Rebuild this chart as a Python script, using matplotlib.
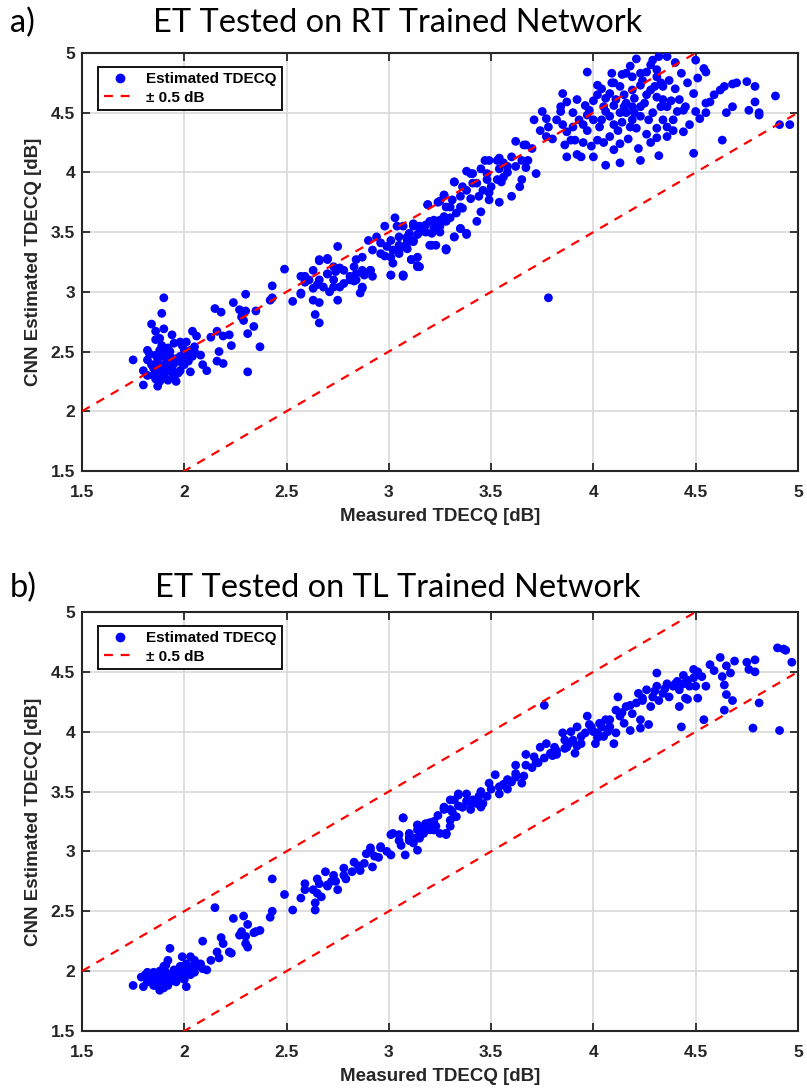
import matplotlib
matplotlib.use("Agg")
import matplotlib.pyplot as plt
from matplotlib.lines import Line2D

# panel a) : ET tested on RT trained network (read off the picture)
a_meas = [
    1.90, 1.89, 1.84, 1.86, 1.90, 1.88, 1.86, 1.75, 1.80, 1.87,
    2.15, 2.18, 2.24, 2.27, 2.30, 2.30, 2.35, 2.34, 2.28, 2.29,
    2.37, 2.31, 2.31, 2.23, 2.19, 2.16, 2.17, 2.13, 2.16, 2.19,
    2.22, 2.04, 2.06, 2.43, 2.43, 2.42, 2.49, 2.53, 2.57, 2.59,
    2.59, 2.63, 2.66, 2.64, 2.66, 2.86, 2.87, 3.01, 3.07, 3.14,
    3.28, 2.75, 2.83, 2.81, 2.73, 2.71, 2.78, 2.91, 2.88, 2.84,
    2.65, 2.70, 2.74, 2.76, 2.66, 2.70,
    1.82, 1.83, 1.84, 1.87, 1.88, 1.89, 1.91, 1.91, 1.87, 1.85,
    1.89, 1.92, 1.95, 1.97, 1.94, 1.95, 1.93, 1.92, 1.95, 1.98,
    2.00, 1.98, 2.01, 2.03, 2.04, 2.08, 2.09, 2.11, 2.03, 2.00,
    1.98, 1.96, 1.88, 1.82, 1.80, 1.82, 2.01, 2.05, 1.94, 1.99,
    1.91, 1.86,
    1.85, 1.88, 1.92, 1.94, 1.90, 1.86, 1.96, 1.99, 2.02, 2.05,
    1.93, 1.89,
    2.75, 2.66, 2.70, 2.73, 2.78, 2.81, 2.84, 2.91, 2.92, 2.87,
    2.90, 2.94, 2.98, 3.03, 3.04, 3.07, 3.12, 3.15, 3.01, 3.07,
    3.11, 3.14, 3.14, 3.02, 3.01, 3.19, 3.24, 3.27, 3.32, 3.38,
    3.41, 3.20, 3.23, 3.28, 3.32, 3.35, 3.38, 3.28, 3.20, 3.22,
    2.96, 2.99, 3.01, 3.05, 3.09, 3.10, 3.05, 3.09, 3.12, 3.05,
    2.92, 2.96, 2.87, 2.84, 2.87, 2.83, 2.63, 2.66, 2.70, 2.73,
    2.76, 2.68, 2.63, 2.57, 2.57, 2.61,
    3.19, 3.22, 3.25, 3.27, 3.28, 3.27, 3.32, 3.31, 3.33, 3.35,
    3.38, 3.36, 3.40, 3.41, 3.45, 3.48, 3.49, 3.53, 3.54, 3.56,
    3.60, 3.62, 3.66, 3.67, 3.65, 3.67, 3.72, 3.65, 3.60, 3.54,
    3.49, 3.45, 3.43, 3.32, 3.28, 3.21, 3.15, 3.11, 3.07,
    3.47, 3.54, 3.58, 3.56, 3.53, 3.48, 3.46, 3.49, 3.64, 3.43,
    3.38, 3.35, 3.30, 3.25, 3.23, 3.18, 3.15, 3.12, 3.09, 3.10,
    3.14, 3.09, 3.25, 3.35, 3.21, 3.05, 3.78,
    3.74, 3.70, 3.68, 3.62, 3.58, 3.55, 3.50, 3.44, 3.40, 3.36,
    3.30, 3.25, 3.18, 3.12, 3.08, 3.02, 2.98,
    3.71, 3.75, 3.77, 3.78, 3.77, 3.82, 3.84, 3.85, 3.87, 3.84,
    3.92, 3.96, 3.97, 3.93, 3.90, 3.87, 3.91, 3.86, 3.89, 3.92,
    3.87, 3.94, 3.97, 4.00, 4.03, 4.02, 3.99, 4.00, 4.06, 4.10,
    4.13, 4.13, 4.23, 4.26, 4.31, 4.32, 4.39, 4.44, 4.49, 4.63,
    4.91, 4.89, 4.79, 4.75, 4.79, 4.76, 4.81, 4.68, 4.64, 4.62,
    4.59, 4.57, 4.55, 4.55, 4.65, 4.68, 4.50, 4.49, 4.46, 4.50,
    4.54, 4.55, 4.51, 4.43, 4.40, 4.36, 4.32, 4.29, 4.28, 4.26,
    4.21, 4.18, 4.16, 4.14, 4.09, 4.09, 4.02, 3.97, 4.02, 4.06,
    4.10, 4.06, 4.04, 4.08, 4.13, 4.11, 4.15, 4.19, 4.23, 4.24,
    4.28, 4.31, 4.34, 4.36, 4.41, 4.42, 4.44, 4.39, 4.36, 4.31,
    4.27, 4.23, 4.19, 4.18, 4.21, 4.19, 4.16, 4.16, 4.23, 4.29,
    4.34, 4.37, 4.34, 4.31, 4.23, 4.19, 4.13, 4.08, 4.31, 4.33,
    4.81, 4.96, 4.70,
    4.05, 4.10, 4.15, 4.20, 4.25, 4.12, 4.08, 4.17, 4.22, 4.05,
    3.95, 3.98, 4.00, 4.04, 4.10, 4.14, 4.20, 4.26, 4.30, 4.33,
    4.38, 4.40, 4.45, 4.47, 4.52, 4.36, 4.28, 3.90, 3.85, 3.80,
    3.95,
]
a_est = [
    2.95, 2.82, 2.73, 2.67, 2.69, 2.61, 2.60, 2.43, 2.22, 2.21,
    2.86, 2.83, 2.91, 2.85, 2.98, 2.84, 2.84, 2.71, 2.79, 2.76,
    2.54, 2.33, 2.65, 2.55, 2.40, 2.42, 2.50, 2.62, 2.67, 2.63,
    2.64, 2.67, 2.63, 3.05, 2.95, 2.93, 3.19, 2.92, 2.98, 3.13,
    3.08, 2.93, 2.91, 2.81, 2.74, 2.99, 3.04, 3.14, 3.13, 3.22,
    3.35, 2.93, 3.09, 3.13, 3.04, 3.00, 3.07, 3.18, 3.14, 3.10,
    3.06, 3.15, 3.17, 3.20, 3.27, 3.28,
    2.43, 2.48, 2.39, 2.43, 2.51, 2.46, 2.40, 2.34, 2.34, 2.30,
    2.28, 2.26, 2.28, 2.32, 2.32, 2.40, 2.46, 2.53, 2.57, 2.58,
    2.51, 2.46, 2.46, 2.51, 2.46, 2.47, 2.39, 2.34, 2.33, 2.39,
    2.34, 2.25, 2.25, 2.30, 2.34, 2.51, 2.58, 2.54, 2.64, 2.55,
    2.48, 2.47,
    2.36, 2.38, 2.42, 2.36, 2.30, 2.27, 2.44, 2.40, 2.42, 2.50,
    2.50, 2.55,
    3.38, 3.26, 3.27, 3.21, 3.18, 3.10, 3.15, 3.18, 3.13, 3.03,
    3.43, 3.46, 3.55, 3.62, 3.55, 3.55, 3.57, 3.55, 3.14, 3.14,
    3.27, 3.29, 3.21, 3.24, 3.29, 3.73, 3.75, 3.81, 3.92, 4.01,
    3.99, 3.39, 3.39, 3.36, 3.46, 3.53, 3.48, 3.59, 3.59, 3.53,
    3.41, 3.38, 3.43, 3.46, 3.43, 3.49, 3.35, 3.36, 3.43, 3.39,
    3.35, 3.32, 3.29, 3.27, 3.18, 3.21, 3.18, 3.10, 3.15, 3.10,
    3.04, 3.04, 3.03, 3.13, 2.99, 3.10,
    3.73, 3.60, 3.76, 3.81, 3.71, 3.63, 3.92, 3.77, 3.66, 3.71,
    3.49, 3.88, 3.99, 3.91, 4.03, 3.99, 4.10, 4.10, 4.03, 4.08,
    4.13, 4.26, 4.23, 4.23, 4.10, 4.04, 3.99, 3.94, 3.80, 3.75,
    3.77, 3.67, 3.59, 3.46, 3.36, 3.39, 3.21, 3.27, 3.14,
    4.10, 4.12, 4.05, 3.96, 3.94, 3.94, 3.85, 3.83, 3.88, 3.91,
    3.85, 3.80, 3.71, 3.60, 3.55, 3.56, 3.50, 3.55, 3.46, 3.43,
    3.48, 3.41, 3.50, 3.53, 3.49, 3.32, 2.95,
    4.35, 4.20, 4.10, 4.05, 4.00, 3.92, 3.88, 3.80, 3.78, 3.70,
    3.62, 3.55, 3.50, 3.42, 3.38, 3.35, 3.30,
    4.44, 4.51, 4.45, 4.38, 4.30, 4.44, 4.51, 4.66, 4.59, 4.55,
    4.61, 4.56, 4.48, 4.44, 4.38, 4.34, 4.27, 4.23, 4.27, 4.15,
    4.13, 4.13, 4.35, 4.44, 4.38, 4.27, 4.22, 4.13, 4.06, 4.19,
    4.24, 4.08, 4.10, 4.32, 4.29, 4.14, 4.35, 4.34, 4.16, 4.27,
    4.40, 4.64, 4.72, 4.76, 4.59, 4.52, 4.48, 4.74, 4.72, 4.69,
    4.65, 4.59, 4.58, 4.50, 4.50, 4.55, 4.51, 4.66, 4.75, 4.94,
    4.87, 4.84, 4.79, 4.83, 4.92, 4.97, 4.97, 4.94, 4.90, 4.84,
    4.95, 4.89, 4.83, 4.82, 4.83, 4.75, 4.73, 4.84, 4.65, 4.62,
    4.56, 4.51, 4.44, 4.47, 4.50, 4.61, 4.65, 4.69, 4.73, 4.77,
    4.69, 4.63, 4.61, 4.55, 4.51, 4.61, 4.52, 4.44, 4.38, 4.37,
    4.44, 4.47, 4.44, 4.38, 4.37, 4.55, 4.50, 4.58, 4.55, 4.50,
    4.44, 4.77, 4.72, 4.80, 4.83, 4.80, 4.72, 4.66, 4.86, 4.75,
    4.50, 4.40, 4.75,
    4.55, 4.40, 4.55, 4.62, 4.58, 4.35, 4.30, 4.28, 4.20, 4.25,
    4.40, 4.52, 4.60, 4.70, 4.75, 4.42, 4.50, 4.65, 4.72, 4.55,
    4.60, 4.70, 4.55, 4.40, 4.45, 4.30, 4.25, 4.50, 4.40, 4.28,
    4.25,
]

# panel b) : ET tested on TL trained network
b_meas = [
    4.90, 4.93, 4.94, 4.97, 4.62, 4.57, 4.59, 4.65, 4.69, 4.67,
    4.75, 4.79, 4.76, 4.79, 4.63, 4.64, 4.65, 4.68, 4.64, 4.81,
    4.78, 4.91, 4.54, 4.43, 4.49, 4.51, 4.53, 4.55, 4.50, 4.51,
    4.46, 4.42, 4.45, 4.44, 4.31, 4.27, 4.23, 3.76,
    3.07, 3.10, 3.14, 3.13, 3.17, 3.18, 3.22, 3.22, 3.27, 3.28,
    3.30, 3.32, 3.32, 3.34, 3.36, 3.38, 3.40, 3.41, 3.45, 3.45,
    3.48, 3.49, 3.52, 3.54, 3.54, 3.58, 3.60, 3.62, 3.62, 3.65,
    3.66, 3.67, 3.67, 3.71, 3.72, 3.74, 3.77, 3.79, 3.81, 3.82,
    3.85, 3.86, 3.87, 3.89, 3.90, 3.91, 3.92, 3.94, 3.96, 3.97,
    3.99, 4.01, 4.02, 4.03, 4.05, 4.06, 4.08, 4.10, 4.11, 4.11,
    4.12, 4.13, 4.15, 4.16, 4.18, 4.19, 4.21, 4.22, 4.23, 4.24,
    4.26, 4.28, 4.29, 4.31, 4.32, 4.34, 4.36, 4.37, 4.39, 4.41,
    4.42, 4.44, 4.46, 4.47, 4.49,
    3.10, 3.16, 3.24, 3.30, 3.38, 3.44, 3.50, 3.56, 3.62, 3.70,
    3.76, 3.82, 3.88, 3.94, 4.00, 4.04, 4.08, 4.14, 4.18, 4.24,
    4.30, 4.35, 4.40, 3.98, 4.02, 4.07, 3.92, 3.86, 3.80, 3.73,
    3.58, 3.46, 3.34, 3.20, 2.95, 2.85, 2.78, 2.70, 2.67,
    1.75, 1.79, 1.82, 1.83, 1.80, 1.84, 1.87, 1.88, 1.89, 1.91,
    1.92, 1.93, 1.91, 1.94, 1.95, 1.98, 1.99, 2.01, 2.03, 2.05,
    2.06, 2.09, 2.11, 2.01, 1.98, 1.96, 1.92, 1.90, 1.86, 1.82,
    2.03, 2.05, 2.08, 1.81, 1.85, 1.87, 1.90, 1.93, 1.95, 2.00,
    2.00, 2.04, 1.90, 1.99,
    1.84, 1.86, 1.88, 1.90, 1.92, 1.94, 1.96, 1.97, 1.99, 2.02,
    1.88, 1.85,
    2.09, 2.13, 2.15, 2.16, 2.17, 2.18, 2.19, 2.22, 2.23, 2.24,
    2.27, 2.29, 2.28, 2.31, 2.30, 2.30, 2.31, 2.34, 2.35, 2.37,
    2.42, 2.43, 2.43, 2.49, 2.53, 2.57, 2.59, 2.59, 2.64, 2.64,
    2.63, 2.65, 2.65, 2.66, 2.69, 2.70, 2.72, 2.73, 2.75, 2.74,
    2.78, 2.79, 2.82, 2.83, 2.86, 2.88, 2.89, 2.92, 2.91, 2.93,
    2.96, 2.99, 3.01, 3.01, 3.05, 3.06, 3.07, 3.08, 3.10, 3.12,
    3.14, 3.14, 3.15, 3.18, 3.20, 3.23, 3.25, 3.28, 3.27, 3.30,
    3.31, 3.33, 3.36, 3.40, 3.43,
    3.34, 3.30, 3.27, 3.28, 3.18, 3.14, 3.22, 3.02, 3.05, 3.10,
    3.15, 2.96, 2.91,
]
b_est = [
    4.70, 4.69, 4.68, 4.58, 4.62, 4.56, 4.51, 4.55, 4.59, 4.49,
    4.58, 4.60, 4.52, 4.50, 4.46, 4.39, 4.31, 4.26, 4.18, 4.24,
    4.03, 4.01, 4.10, 4.04, 4.52, 4.50, 4.46, 4.38, 4.38, 4.28,
    4.27, 4.21, 4.28, 4.47, 4.49, 4.06, 4.03, 4.22,
    3.28, 3.15, 3.18, 3.11, 3.15, 3.23, 3.18, 3.25, 3.35, 3.15,
    3.21, 3.29, 3.43, 3.47, 3.37, 3.48, 3.40, 3.43, 3.37, 3.50,
    3.46, 3.57, 3.64, 3.54, 3.48, 3.60, 3.58, 3.72, 3.65, 3.57,
    3.63, 3.81, 3.72, 3.79, 3.75, 3.87, 3.90, 3.82, 3.87, 3.81,
    3.99, 3.93, 3.87, 4.00, 3.93, 3.82, 4.04, 3.90, 3.99, 4.13,
    4.04, 3.90, 3.99, 4.07, 3.96, 4.10, 4.04, 3.90, 3.99, 4.18,
    4.29, 4.13, 4.07, 4.21, 4.01, 4.15, 4.24, 4.32, 4.10, 4.26,
    4.35, 4.21, 4.29, 4.38, 4.26, 4.32, 4.40, 4.29, 4.38, 4.42,
    4.35, 4.40, 4.43, 4.38, 4.45,
    3.10, 3.20, 3.30, 3.35, 3.42, 3.46, 3.52, 3.56, 3.62, 3.70,
    3.78, 3.84, 3.90, 3.96, 4.00, 4.04, 4.10, 4.16, 4.22, 4.28,
    4.34, 4.36, 4.40, 4.06, 3.95, 4.00, 3.88, 3.86, 3.80, 3.74,
    3.52, 3.40, 3.38, 3.24, 2.95, 2.88, 2.80, 2.72, 2.62,
    1.88, 1.95, 1.99, 1.93, 1.87, 1.97, 1.91, 1.84, 1.98, 2.05,
    2.09, 2.19, 1.99, 1.95, 2.01, 2.04, 2.12, 2.06, 2.12, 2.09,
    2.04, 2.02, 2.01, 1.87, 1.95, 1.91, 1.88, 1.86, 1.88, 1.91,
    1.97, 1.99, 2.06, 1.97, 1.99, 1.95, 1.93, 1.93, 1.98, 2.01,
    1.93, 2.04, 2.04, 1.98,
    1.93, 1.96, 1.90, 1.94, 1.97, 1.92, 1.99, 1.94, 2.04, 2.00,
    2.00, 1.88,
    2.25, 2.09, 2.53, 2.16, 2.11, 2.28, 2.23, 2.16, 2.15, 2.44,
    2.30, 2.46, 2.33, 2.39, 2.29, 2.23, 2.20, 2.32, 2.33, 2.34,
    2.45, 2.50, 2.77, 2.64, 2.51, 2.61, 2.68, 2.73, 2.57, 2.51,
    2.68, 2.65, 2.77, 2.73, 2.83, 2.71, 2.75, 2.80, 2.68, 2.75,
    2.86, 2.77, 2.83, 2.91, 2.84, 2.90, 2.98, 2.87, 3.01, 2.96,
    3.03, 3.00, 3.14, 2.97, 3.14, 3.05, 3.28, 2.97, 3.12, 3.07,
    3.01, 3.22, 3.11, 3.22, 3.18, 3.21, 3.15, 3.14, 3.37, 3.26,
    3.33, 3.29, 3.37, 3.35, 3.40,
    3.48, 3.43, 3.36, 3.15, 3.23, 3.22, 3.18, 3.15, 3.09, 3.09,
    3.12, 3.04, 3.03,
]

band = 0.5
ref_x = [1.5, 5.0]
axis_font = ['Liberation Sans Narrow', 'Liberation Sans']


def draw_panel(ax, meas, est, title, tag, title_y):
    ax.scatter(meas, est, s=40, color='#0000ff', edgecolors='none', zorder=3)
    ax.plot(ref_x, [v + band for v in ref_x], '--', color='#ff0000', lw=1.6, dashes=(4, 3.5), zorder=4)
    ax.plot(ref_x, [v - band for v in ref_x], '--', color='#ff0000', lw=1.6, dashes=(4, 3.5), zorder=4)

    ax.set_xlim(1.5, 5)
    ax.set_ylim(1.5, 5)
    ticks = [1.5, 2, 2.5, 3, 3.5, 4, 4.5, 5]
    labels = ['1.5', '2', '2.5', '3', '3.5', '4', '4.5', '5']
    ax.set_xticks(ticks)
    ax.set_xticklabels(labels)
    ax.set_yticks(ticks)
    ax.set_yticklabels(labels)
    ax.grid(True, color='#d9d9d9', lw=1.2, zorder=0)
    ax.set_axisbelow(True)
    ax.tick_params(direction='in', top=True, right=True, length=6, width=1.3,
                   colors='#262626', labelsize=12.5)
    ax.tick_params(axis='x', pad=10)
    ax.tick_params(axis='y', pad=5)
    for lab in ax.get_xticklabels() + ax.get_yticklabels():
        lab.set_fontweight('bold')
        lab.set_family(axis_font)
    for sp in ax.spines.values():
        sp.set_linewidth(1.5)
        sp.set_color('#262626')

    ax.set_xlabel('Measured TDECQ [dB]', fontsize=13.5, fontweight='bold', color='#262626',
                  family=axis_font, labelpad=6)
    ax.set_ylabel('CNN Estimated TDECQ [dB]', fontsize=13.5, fontweight='bold', color='#262626',
                  family=axis_font, labelpad=6)

    handles = [
        Line2D([], [], marker='o', ls='none', color='#0000ff', markersize=6),
        Line2D([], [], ls='--', color='#ff0000', lw=1.6, dashes=(4, 3.5)),
    ]
    leg = ax.legend(handles, ['Estimated TDECQ', '\u00b1 0.5 dB'], loc='upper left',
                    bbox_to_anchor=(0.012, 0.985), fancybox=False, framealpha=1,
                    edgecolor='black', handlelength=2.2, handletextpad=0.6,
                    borderpad=0.35, labelspacing=0.3,
                    prop={'weight': 'bold', 'size': 11, 'family': 'Liberation Sans'})
    leg.get_frame().set_linewidth(1.3)

    fig = ax.figure
    fig.text(0.493, title_y, title, ha='center', va='baseline', fontsize=23.5,
             family=['Lato', 'DejaVu Sans'], color='black')
    fig.text(0.012, title_y, tag, ha='left', va='baseline', fontsize=23.5,
             family=['Lato', 'DejaVu Sans'], color='black')


fig = plt.figure(figsize=(8.07, 10.92), dpi=100)
ax_a = fig.add_axes([0.1016, 0.5687, 0.8872, 0.3828])
ax_b = fig.add_axes([0.1016, 0.0559, 0.8872, 0.3837])

draw_panel(ax_a, a_meas, a_est, 'ET Tested on RT Trained Network', 'a)', 0.9707)
draw_panel(ax_b, b_meas, b_est, 'ET Tested on TL Trained Network', 'b)', 0.4533)

fig.savefig('out.png', dpi=100)
